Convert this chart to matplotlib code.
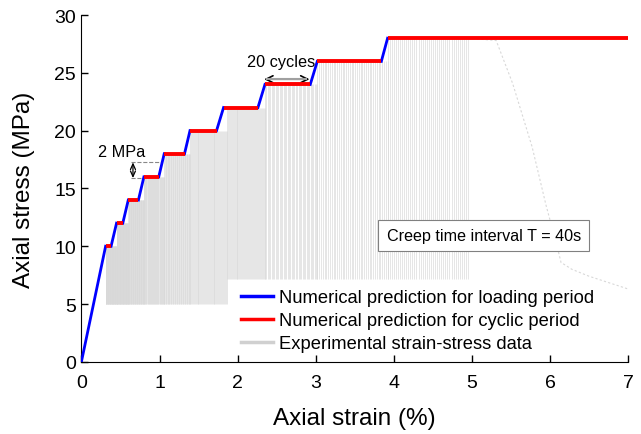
import numpy as np
import matplotlib.pyplot as plt

plt.rcParams['font.family'] = ['Liberation Sans', 'DejaVu Sans']

# stress level of each creep/cyclic stage (MPa)
stage_stress = [10, 12, 14, 16, 18, 20, 22, 24, 26, 28]
# strain (%) where the red cyclic segment starts / ends
red_start = [0.31, 0.45, 0.60, 0.80, 1.06, 1.39, 1.82, 2.35, 3.02, 3.92]
red_end = [0.38, 0.53, 0.73, 0.99, 1.32, 1.73, 2.26, 2.93, 3.84, 7.0]

# experimental cycles: strain span and valley stress of each stage
gray_start = [0.31, 0.45, 0.60, 0.80, 1.06, 1.39, 1.86, 2.35, 3.02, 3.92]
gray_end = [0.45, 0.60, 0.80, 1.06, 1.39, 1.86, 2.35, 3.02, 3.92, 4.95]
gray_valley = [5, 5, 5, 5, 5, 5, 7.2, 7.2, 7.2, 7.2]
n_cycles = 20

# post-peak experimental branch
fail_x = [4.95, 5.31, 5.52, 5.77, 5.95, 6.09, 6.14, 6.28, 6.5, 7.0]
fail_y = [28, 27.8, 24.1, 18.6, 13.5, 10.0, 8.6, 8.0, 7.4, 6.3]

fig = plt.figure(figsize=(6.41, 4.35), dpi=100)
ax = fig.add_axes([0.127, 0.166, 0.853, 0.797])

gray = '#d8d8d8'
for i in range(len(stage_stress)):
    xs = np.linspace(gray_start[i], gray_end[i], 2 * n_cycles)
    ax.vlines(xs, gray_valley[i], stage_stress[i], color=gray, lw=0.45, zorder=1)
ax.plot(fail_x, fail_y, color=gray, lw=0.8, ls=(0, (2, 2)), zorder=1)

# loading (blue) segments
ax.plot([0, red_start[0]], [0, stage_stress[0]], color='blue', lw=2, zorder=3)
for i in range(len(stage_stress) - 1):
    ax.plot([red_end[i], red_start[i + 1]], [stage_stress[i], stage_stress[i + 1]],
            color='blue', lw=2, zorder=3)
# cyclic (red) segments
for i in range(len(stage_stress)):
    ax.plot([red_start[i], red_end[i]], [stage_stress[i], stage_stress[i]],
            color='red', lw=2.8, zorder=4, solid_capstyle='butt')

# legend proxies
hb, = ax.plot([], [], color='blue', lw=2.5)
hr, = ax.plot([], [], color='red', lw=2.5)
hg, = ax.plot([], [], color='#d0d0d0', lw=2.5)
ax.legend([hb, hr, hg],
          ['Numerical prediction for loading period',
           'Numerical prediction for cyclic period',
           'Experimental strain-stress data'],
          loc='center left', bbox_to_anchor=(0.261, 0.118), frameon=False,
          fontsize=13.2, handlelength=1.75, handletextpad=0.35, labelspacing=0.33,
          borderpad=0.4)

# annotations
ax.annotate('', xy=(2.34, 24.45), xytext=(2.92, 24.45),
            arrowprops=dict(arrowstyle='<->,head_length=0.5,head_width=0.25',
                            color='black', lw=1.2, shrinkA=0, shrinkB=0))
ax.plot([2.38, 2.88], [24.45, 24.45], color='#a0a0a0', lw=1.5, zorder=5)
ax.text(2.56, 26.0, '20 cycles', ha='center', va='center', fontsize=11.7)

ax.plot([0.63, 1.03], [17.25, 17.25], color='#888888', lw=0.8, ls='--', zorder=2)
ax.plot([0.63, 0.80], [15.9, 15.9], color='#888888', lw=0.8, ls='--', zorder=2)
ax.annotate('', xy=(0.66, 15.9), xytext=(0.66, 17.25),
            arrowprops=dict(arrowstyle='<->,head_length=0.4,head_width=0.18',
                            color='black', lw=0.9, shrinkA=0, shrinkB=0))
ax.text(0.52, 18.2, '2 MPa', ha='center', va='center', fontsize=11.7)

ax.text(5.15, 10.9, 'Creep time interval T = 40s', ha='center', va='center',
        fontsize=11.6,
        bbox=dict(boxstyle='square,pad=0.5', fc='white', ec='#808080', lw=0.8))

ax.set_xlim(0, 7)
ax.set_ylim(0, 30)
ax.set_xticks(range(0, 8))
ax.set_yticks(range(0, 31, 5))
ax.spines['top'].set_visible(False)
ax.spines['right'].set_visible(False)
ax.tick_params(direction='in', labelsize=14, length=5, width=1)
ax.tick_params(axis='x', pad=9)
ax.tick_params(axis='y', pad=4)
ax.set_xlabel('Axial strain (%)', fontsize=17.5, labelpad=11)
ax.set_ylabel('Axial stress (MPa)', fontsize=17.5, labelpad=14)

fig.savefig('out.png', dpi=100)
